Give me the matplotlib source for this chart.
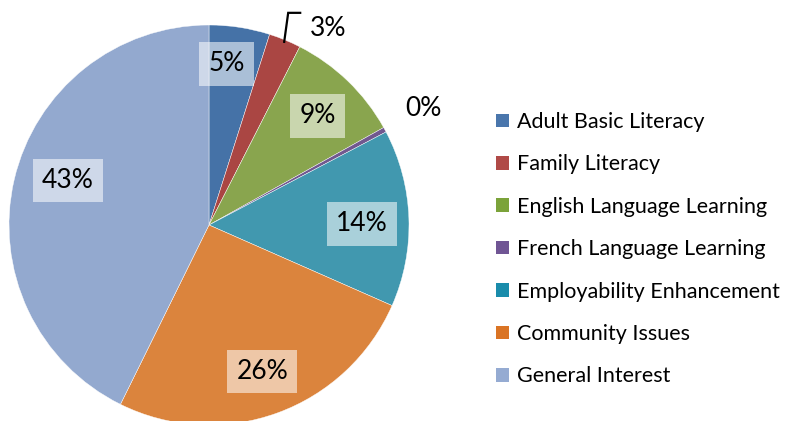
import numpy as np
import matplotlib
matplotlib.use("Agg")
import matplotlib.pyplot as plt
from matplotlib.patches import Patch

categories = ["Adult Basic Literacy", "Family Literacy", "English Language Learning",
              "French Language Learning", "Employability Enhancement", "Community Issues",
              "General Interest"]
values = [4.9, 2.6, 9.4, 0.4, 14.3, 25.7, 42.7]
pct_labels = ["5%", "3%", "9%", "0%", "14%", "26%", "43%"]

slice_colors = ["#4572A7", "#AA4643", "#89A54E", "#71588F", "#4198AF", "#DB843D", "#93A9CF"]
legend_colors = ["#4A76AC", "#B04A47", "#7BA33A", "#705594", "#1A8CAB", "#DA7424", "#95ABD2"]

plt.rcParams['font.family'] = ['Lato', 'DejaVu Sans']

W, H = 785, 421
fig = plt.figure(figsize=(W / 100, H / 100), dpi=100)
ax = fig.add_axes([0, 0, 1, 1])

cx, cy, R = 209, H - 225, 200
wedges, _ = ax.pie(values, colors=slice_colors, startangle=90, counterclock=False,
                   center=(cx, cy), radius=R, frame=True,
                   wedgeprops=dict(edgecolor='white', linewidth=0.3))
ax.set_xlim(0, W)
ax.set_ylim(0, H)
ax.set_aspect('equal')
ax.axis('off')

# label radius factors (fraction of radius) and angle nudges
label_r = [0.81, None, 0.77, 1.22, 0.765, 0.78, 0.74]
label_da = [2.5, 0, -1, 0, -1.6, 0, -4.4]
boxed = [True, False, True, False, True, True, True]
fs = 19
for i, w in enumerate(wedges):
    mid = np.deg2rad((w.theta1 + w.theta2) / 2 + label_da[i])
    if label_r[i] is None:
        p0 = np.array([cx + 0.99 * R * np.cos(mid), cy + 0.99 * R * np.sin(mid)])
        p1 = p0 + np.array([4, 29])
        p2 = p1 + np.array([12, 0])
        ax.plot([p0[0], p1[0], p2[0]], [p0[1], p1[1], p2[1]], color='black', lw=1.6,
                solid_joinstyle='miter')
        ax.text(p2[0] + 10, p2[1] - 16, pct_labels[i], ha='left', va='center', fontsize=fs)
        continue
    x = cx + label_r[i] * R * np.cos(mid)
    y = cy + label_r[i] * R * np.sin(mid)
    kw = {}
    if boxed[i]:
        kw['bbox'] = dict(boxstyle='square,pad=0.35', facecolor='white', alpha=0.55,
                          edgecolor='none')
    ax.text(x, y, pct_labels[i], ha='center', va='center', fontsize=fs, **kw)

handles = [Patch(facecolor=c, edgecolor='none') for c in legend_colors]
fig.legend(handles, categories, loc='upper left', bbox_to_anchor=(496 / W, 1 - 112 / H),
           frameon=False, fontsize=15.5, handlelength=0.6, handleheight=0.6,
           handletextpad=0.37, labelspacing=1.04, borderaxespad=0, borderpad=0)

fig.savefig("out.png", dpi=100)
